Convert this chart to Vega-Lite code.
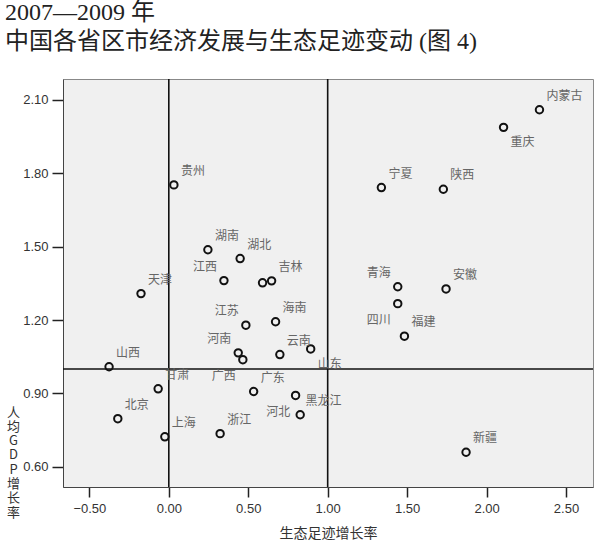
{
  "$schema": "https://vega.github.io/schema/vega-lite/v6.json",
  "width": 530,
  "height": 408,
  "autosize": {"type": "none"},
  "padding": {"left": 63, "top": 79, "right": 7, "bottom": 58},
  "background": "white",
  "config": {
    "view": {"fill": "#f0f0f0", "stroke": "#888", "strokeWidth": 1},
    "axis": {
      "grid": false,
      "labelFont": "Liberation Sans",
      "labelFontSize": 13,
      "labelColor": "#333",
      "tickColor": "#222",
      "tickWidth": 1.5,
      "domainColor": "#444",
      "titleFont": "Noto Sans CJK SC",
      "titleFontSize": 14,
      "titleFontWeight": "normal",
      "titleColor": "#333"
    }
  },
  "title": {
    "text": ["2007—2009 年", "中国各省区市经济发展与生态足迹变动 (图 4)"],
    "anchor": "start",
    "frame": "group",
    "font": "Liberation Serif, Noto Sans CJK SC",
    "fontSize": 24,
    "fontWeight": "normal",
    "color": "#222",
    "lineHeight": 29,
    "dx": -58,
    "offset": 24
  },
  "data": {
    "values": [
      {"name": "内蒙古", "x": 2.333, "y": 2.059},
      {"name": "重庆", "x": 2.107, "y": 1.987},
      {"name": "贵州", "x": 0.032, "y": 1.752},
      {"name": "宁夏", "x": 1.338, "y": 1.741},
      {"name": "陕西", "x": 1.728, "y": 1.734},
      {"name": "湖南", "x": 0.246, "y": 1.487},
      {"name": "湖北", "x": 0.449, "y": 1.451},
      {"name": "江西", "x": 0.347, "y": 1.361},
      {"name": "辽宁", "x": 0.590, "y": 1.352},
      {"name": "吉林", "x": 0.647, "y": 1.360},
      {"name": "天津", "x": -0.175, "y": 1.308},
      {"name": "青海", "x": 1.441, "y": 1.336},
      {"name": "安徽", "x": 1.745, "y": 1.327},
      {"name": "四川", "x": 1.441, "y": 1.267},
      {"name": "江苏", "x": 0.485, "y": 1.179},
      {"name": "海南", "x": 0.672, "y": 1.193},
      {"name": "福建", "x": 1.483, "y": 1.134},
      {"name": "河南", "x": 0.437, "y": 1.066},
      {"name": "广西", "x": 0.466, "y": 1.038},
      {"name": "云南", "x": 0.699, "y": 1.059},
      {"name": "山东", "x": 0.893, "y": 1.082},
      {"name": "山西", "x": -0.376, "y": 1.009},
      {"name": "甘肃", "x": -0.067, "y": 0.919},
      {"name": "广东", "x": 0.534, "y": 0.908},
      {"name": "黑龙江", "x": 0.798, "y": 0.892},
      {"name": "河北", "x": 0.827, "y": 0.813},
      {"name": "北京", "x": -0.321, "y": 0.797},
      {"name": "上海", "x": -0.025, "y": 0.723},
      {"name": "浙江", "x": 0.323, "y": 0.736},
      {"name": "新疆", "x": 1.871, "y": 0.660}
    ]
  },
  "layer": [
    {
      "data": {"values": [{"x": 0}, {"x": 1}]},
      "mark": {"type": "rule", "color": "#111", "strokeWidth": 1.6},
      "encoding": {
        "x": {"field": "x", "type": "quantitative", "title": "生态足迹增长率"}
      }
    },
    {
      "data": {"values": [{"y": 1}]},
      "mark": {"type": "rule", "color": "#111", "strokeWidth": 1.6},
      "encoding": {
        "y": {"field": "y", "type": "quantitative", "title": ["人", "均", "G", "D", "P", "增", "长", "率"]}
      }
    },
    {
      "mark": {"type": "point", "shape": "circle", "filled": false, "stroke": "#111", "strokeWidth": 2, "size": 55, "opacity": 1},
      "encoding": {
        "x": {
          "field": "x", "type": "quantitative",
          "scale": {"domain": [-0.666, 2.67], "nice": false, "zero": false},
          "axis": {
            "title": "生态足迹增长率",
            "values": [-0.5, 0, 0.5, 1, 1.5, 2, 2.5],
            "format": ".2f",
            "tickSize": 10,
            "labelPadding": 5,
            "titleBaseline": "middle",
            "titleY": 46
          }
        },
        "y": {
          "field": "y", "type": "quantitative",
          "scale": {"domain": [0.518, 2.1845], "nice": false, "zero": false},
          "axis": {
            "title": ["人", "均", "G", "D", "P", "增", "长", "率"],
            "values": [0.6, 0.9, 1.2, 1.5, 1.8, 2.1],
            "format": ".2f",
            "tickSize": 11,
            "labelPadding": 4,
            "titleAngle": 0,
            "titleAlign": "center",
            "titleBaseline": "top",
            "titleFontSize": 13,
            "titleLineHeight": 14.3,
            "titleX": -50,
            "titleY": 327
          }
        }
      }
    },
    {
      "transform": [{"filter": {"not": {"field": "name", "oneOf": ["重庆", "山东", "江西", "青海", "江苏", "河南", "四川", "广西", "黑龙江", "河北", "辽宁"]}}}],
      "mark": {"type": "text", "align": "left", "baseline": "middle", "dx": 7, "dy": -14, "font": "Noto Sans CJK SC", "fontSize": 12, "fill": "#666"},
      "encoding": {
        "x": {"field": "x", "type": "quantitative"},
        "y": {"field": "y", "type": "quantitative"},
        "text": {"field": "name"}
      }
    },
    {
      "transform": [{"filter": {"field": "name", "oneOf": ["重庆", "山东"]}}],
      "mark": {"type": "text", "align": "left", "baseline": "middle", "dx": 7, "dy": 15, "font": "Noto Sans CJK SC", "fontSize": 12, "fill": "#666"},
      "encoding": {
        "x": {"field": "x", "type": "quantitative"},
        "y": {"field": "y", "type": "quantitative"},
        "text": {"field": "name"}
      }
    },
    {
      "transform": [{"filter": {"field": "name", "oneOf": ["江西", "青海", "江苏", "河南"]}}],
      "mark": {"type": "text", "align": "right", "baseline": "middle", "dx": -7, "dy": -14, "font": "Noto Sans CJK SC", "fontSize": 12, "fill": "#666"},
      "encoding": {
        "x": {"field": "x", "type": "quantitative"},
        "y": {"field": "y", "type": "quantitative"},
        "text": {"field": "name"}
      }
    },
    {
      "transform": [{"filter": {"field": "name", "oneOf": ["四川", "广西"]}}],
      "mark": {"type": "text", "align": "right", "baseline": "middle", "dx": -7, "dy": 16, "font": "Noto Sans CJK SC", "fontSize": 12, "fill": "#666"},
      "encoding": {
        "x": {"field": "x", "type": "quantitative"},
        "y": {"field": "y", "type": "quantitative"},
        "text": {"field": "name"}
      }
    },
    {
      "transform": [{"filter": {"field": "name", "equal": "黑龙江"}}],
      "mark": {"type": "text", "align": "left", "baseline": "middle", "dx": 10, "dy": 6, "font": "Noto Sans CJK SC", "fontSize": 12, "fill": "#666"},
      "encoding": {
        "x": {"field": "x", "type": "quantitative"},
        "y": {"field": "y", "type": "quantitative"},
        "text": {"field": "name"}
      }
    },
    {
      "transform": [{"filter": {"field": "name", "equal": "河北"}}],
      "mark": {"type": "text", "align": "right", "baseline": "middle", "dx": -10, "dy": -3, "font": "Noto Sans CJK SC", "fontSize": 12, "fill": "#666"},
      "encoding": {
        "x": {"field": "x", "type": "quantitative"},
        "y": {"field": "y", "type": "quantitative"},
        "text": {"field": "name"}
      }
    }
  ]
}
